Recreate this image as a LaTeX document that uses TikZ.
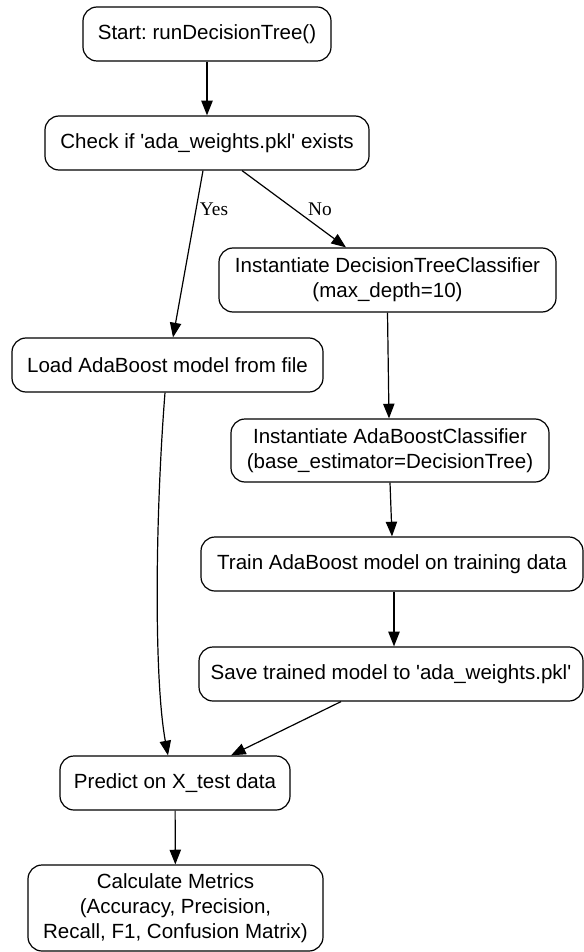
\documentclass[tikz,border=0pt]{standalone}
\usepackage{fontspec}
\setmainfont{Liberation Sans}
\newfontfamily\labelfont{Liberation Serif}
\usetikzlibrary{arrows.meta,calc}
\frenchspacing
\tikzset{
  box/.style={draw=black, line width=0.9pt, rounded corners=10.5pt, align=center,
    inner sep=0pt, minimum height=40.5pt,
    font=\fontsize{15.4}{18.9}\selectfont},
  arr/.style={draw=black, line width=0.9pt, -{Triangle[length=11pt,width=8.5pt]}},
  edgelabel/.style={inner sep=0pt, font=\labelfont\fontsize{14.5}{17}\selectfont}
}
\begin{document}
\begin{tikzpicture}[x=0.75pt,y=-0.75pt]
\useasboundingbox (0,0) rectangle (584,952);
\node[box, minimum width=186pt] (start) at (207,34) {Start: runDecisionTree()};
\node[box, minimum width=243pt] (check) at (207,143) {Check if \textquotesingle ada\_weights.pkl\textquotesingle\ exists};
\node[box, minimum width=252.75pt, minimum height=48pt] (dtc) at (387.5,280) {Instantiate DecisionTreeClassifier\\(max\_depth=10)};
\node[box, minimum width=233.25pt] (load) at (167.5,365) {Load AdaBoost model from file};
\node[box, minimum width=238.5pt, minimum height=47.25pt] (ada) at (390,450.5) {Instantiate AdaBoostClassifier\\(base\_estimator=DecisionTree)};
\node[box, minimum width=286.5pt] (train) at (392,564) {Train AdaBoost model on training data};
\node[box, minimum width=288pt] (save) at (391,674) {Save trained model to \textquotesingle ada\_weights.pkl\textquotesingle};
\node[box, minimum width=172.5pt] (predict) at (175,783) {Predict on X\_test data};
\node[box, minimum width=221.25pt, minimum height=64.5pt] (calc) at (175.5,908) {Calculate Metrics\\(Accuracy, Precision,\\Recall, F1, Confusion Matrix)};

\node[edgelabel] (yes) at (214,209) {Yes};
\node[edgelabel] (no) at (320,209) {No};

\draw[arr] (start) -- (check);
\draw[arr] ($(check.south)+(-4,0)$) -- ($(load.north)+(5.5,0)$);
\draw[arr] ($(check.south)+(35,0)$) -- ($(dtc.north)+(-41.5,0)$);
\draw[arr] (dtc.south) -- ($(ada.north)+(-1,0)$);
\draw[arr] (ada.south) -- (train.north);
\draw[arr] ($(train.south)+(2,0)$) -- ($(save.north)+(3,0)$);
\draw[arr] ($(load.south)+(-2.5,0)$) .. controls (155,520) and (154,680) .. ($(predict.north)+(-7,0)$);
\draw[arr] ($(save.south)+(-50,0)$) -- ($(predict.north)+(56,0)$);
\draw[arr] (predict) -- (calc);
\end{tikzpicture}
\end{document}
